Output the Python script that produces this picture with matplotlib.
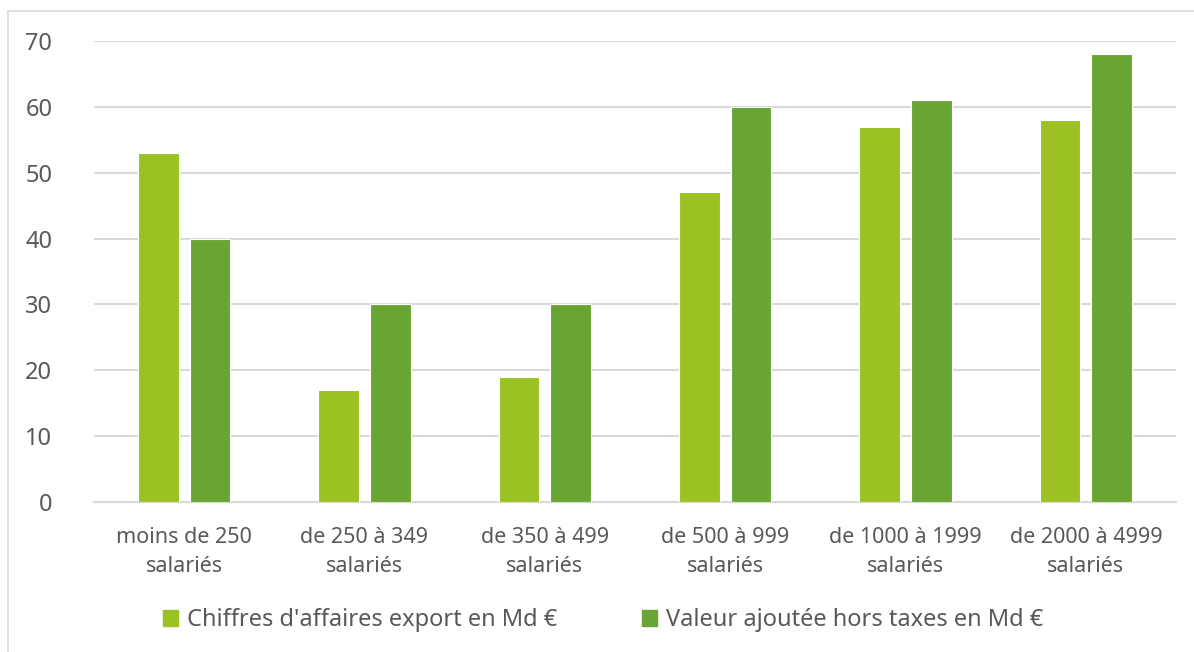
import matplotlib.pyplot as plt
import numpy as np
from matplotlib.patches import Rectangle

# data
categories = ["moins de 250\nsalariés", "de 250 à 349\nsalariés", "de 350 à 499\nsalariés",
              "de 500 à 999\nsalariés", "de 1000 à 1999\nsalariés", "de 2000 à 4999\nsalariés"]
export_ca = [53, 17, 19, 47, 57, 58]
valeur_ajoutee = [40, 30, 30, 60, 61, 68]
series_names = ["Chiffres d'affaires export en Md €", "Valeur ajoutée hors taxes en Md €"]
yticks = [0, 10, 20, 30, 40, 50, 60, 70]

light = "#9bc122"
dark = "#68a533"
text_col = "#595959"
grid_col = "#d9d9d9"

plt.rcParams['font.family'] = ['Noto Sans', 'DejaVu Sans']

fig = plt.figure(figsize=(11.94, 6.52), dpi=100)
ax = fig.add_axes([94 / 1194, 1 - 502 / 652, (1176 - 94) / 1194, (502 - 41) / 652])

x = np.arange(len(categories))
w = 0.225
off = 0.143
ax.bar(x - off, export_ca, w, color=light, edgecolor="white", linewidth=0.8, zorder=3)
ax.bar(x + off, valeur_ajoutee, w, color=dark, edgecolor="white", linewidth=0.8, zorder=3)

ax.set_xlim(-0.5, len(categories) - 0.5)
ax.set_ylim(0, 70)
ax.set_yticks(yticks)
ax.set_xticks(x)
ax.set_xticklabels(categories, fontsize=15.5, color=text_col, linespacing=1.5)
ax.tick_params(axis="y", labelsize=17, colors=text_col, length=0, pad=30)
ax.tick_params(axis="x", length=0, pad=18)
ax.grid(axis="y", color=grid_col, linewidth=1.5, zorder=0)
for s in ["top", "right", "left"]:
    ax.spines[s].set_visible(False)
ax.spines["bottom"].set_color(grid_col)
ax.spines["bottom"].set_linewidth(1.5)

# outer chart frame (left and top edges visible)
fig.add_artist(plt.Line2D([8 / 1194, 8 / 1194], [0, 1 - 11 / 652], color=grid_col, lw=1.2, transform=fig.transFigure))
fig.add_artist(plt.Line2D([8 / 1194, 1], [1 - 11 / 652, 1 - 11 / 652], color=grid_col, lw=1.2, transform=fig.transFigure))

# legend
leg = ax.legend([Rectangle((0, 0), 1, 1, color=light), Rectangle((0, 0), 1, 1, color=dark)],
                series_names, loc="center", bbox_to_anchor=(0.505, 1 - 620 / 652),
                bbox_transform=fig.transFigure, ncol=2, frameon=False, fontsize=17,
                handlelength=0.65, handleheight=0.65, handletextpad=0.35, columnspacing=3.6)
for t in leg.get_texts():
    t.set_color(text_col)

fig.savefig("out.png", dpi=100)
